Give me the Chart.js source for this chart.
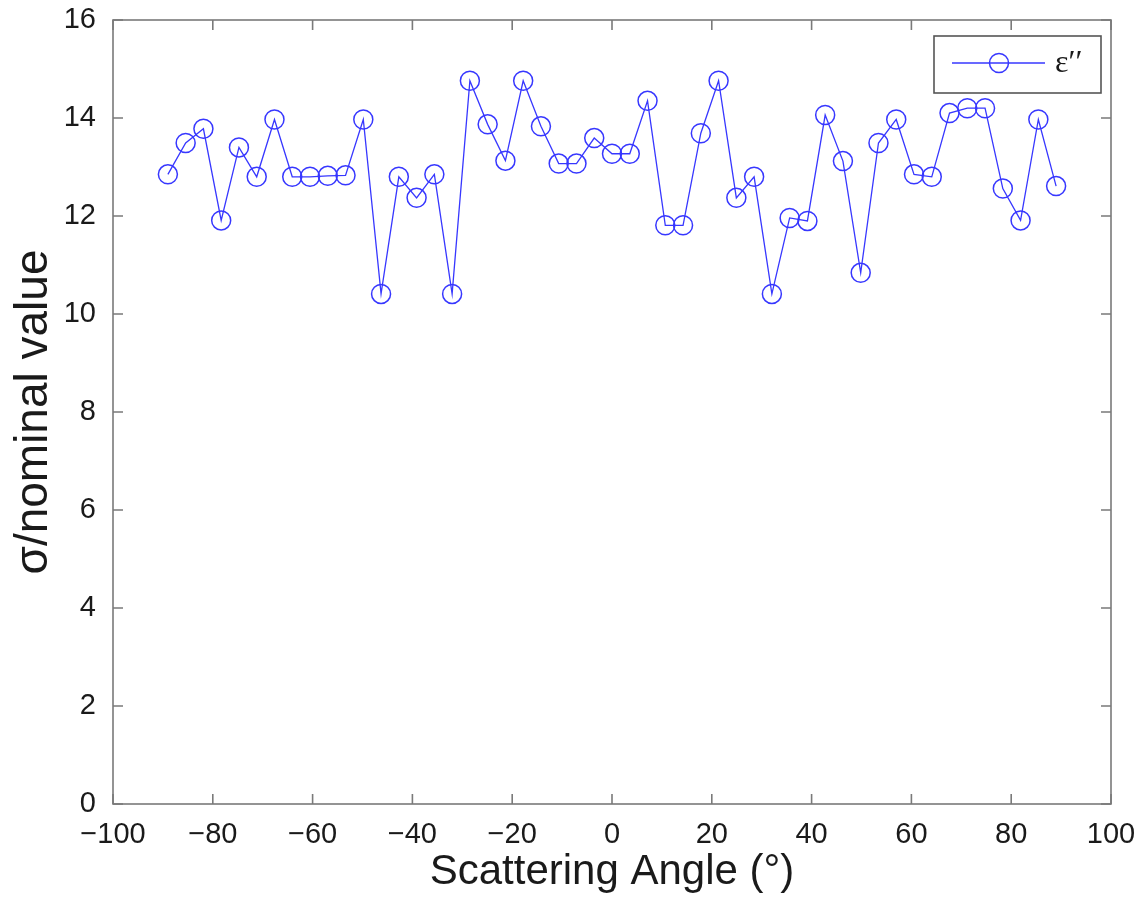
<!DOCTYPE html>
<html>
<head>
<meta charset="utf-8">
<script src="https://cdn.jsdelivr.net/npm/chart.js@4.4.1/dist/chart.umd.min.js"></script>
<style>
  html, body { margin: 0; padding: 0; background: #ffffff; }
  #wrap { width: 1146px; height: 902px; }
</style>
</head>
<body>
<div id="wrap"><canvas id="c" width="1146" height="902"></canvas></div>
<script>
// Scattering angles (degrees)
const angles = [-89, -85.44, -81.88, -78.32, -74.76, -71.2, -67.64, -64.08, -60.52, -56.96,
  -53.4, -49.84, -46.28, -42.72, -39.16, -35.6, -32.04, -28.48, -24.92, -21.36,
  -17.8, -14.24, -10.68, -7.12, -3.56, 0, 3.56, 7.12, 10.68, 14.24,
  17.8, 21.36, 24.92, 28.48, 32.04, 35.6, 39.16, 42.72, 46.28, 49.84,
  53.4, 56.96, 60.52, 64.08, 67.64, 71.2, 74.76, 78.32, 81.88, 85.44, 89];
// sigma / nominal value for epsilon''
const epsValues = [12.85, 13.49, 13.78, 11.91, 13.40, 12.80, 13.97, 12.80, 12.80, 12.82,
  12.83, 13.97, 10.41, 12.80, 12.37, 12.85, 10.41, 14.76, 13.87, 13.13,
  14.76, 13.83, 13.07, 13.07, 13.59, 13.27, 13.27, 14.35, 11.81, 11.81,
  13.69, 14.76, 12.37, 12.80, 10.41, 11.96, 11.90, 14.06, 13.12, 10.84,
  13.49, 13.97, 12.85, 12.80, 14.10, 14.20, 14.20, 12.56, 11.91, 13.97, 12.61];
const xTicks = [-100, -80, -60, -40, -20, 0, 20, 40, 60, 80, 100];
const yTicks = [0, 2, 4, 6, 8, 10, 12, 14, 16];
const seriesLabel = 'ε′′';
const xTitle = 'Scattering Angle (°)';
const yTitle = 'σ/nominal value';

const blue = 'rgb(55,55,255)';
const frameColor = '#7a7a7a';

const framePlugin = {
  id: 'matlabFrame',
  afterDatasetsDraw(chart) {
    const ctx = chart.ctx;
    const a = chart.chartArea;
    const xs = chart.scales.x, ys = chart.scales.y;
    ctx.save();
    ctx.strokeStyle = frameColor;
    ctx.lineWidth = 1.6;
    ctx.strokeRect(a.left, a.top, a.right - a.left, a.bottom - a.top);
    const tl = 10;
    ctx.beginPath();
    xTicks.forEach(v => {
      const px = xs.getPixelForValue(v);
      ctx.moveTo(px, a.bottom); ctx.lineTo(px, a.bottom - tl);
      ctx.moveTo(px, a.top); ctx.lineTo(px, a.top + tl);
    });
    yTicks.forEach(v => {
      const py = ys.getPixelForValue(v);
      ctx.moveTo(a.left, py); ctx.lineTo(a.left + tl, py);
      ctx.moveTo(a.right, py); ctx.lineTo(a.right - tl, py);
    });
    ctx.stroke();

    // Legend box (top right, inside axes)
    const bx = 934, by = 36, bw = 167, bh = 57;
    ctx.fillStyle = '#ffffff';
    ctx.fillRect(bx, by, bw, bh);
    ctx.strokeStyle = '#555555';
    ctx.lineWidth = 1.6;
    ctx.strokeRect(bx, by, bw, bh);
    const ly = by + 27;
    ctx.strokeStyle = blue;
    ctx.lineWidth = 1.3;
    ctx.beginPath();
    ctx.moveTo(bx + 18, ly); ctx.lineTo(bx + 111, ly);
    ctx.stroke();
    ctx.lineWidth = 1.5;
    ctx.beginPath();
    ctx.arc(bx + 65, ly, 9.5, 0, Math.PI * 2);
    ctx.stroke();
    ctx.fillStyle = '#1a1a1a';
    ctx.font = '32px "Liberation Serif", "DejaVu Serif", serif';
    ctx.textBaseline = 'middle';
    ctx.textAlign = 'left';
    ctx.fillText(seriesLabel, bx + 121, ly + 1);
    ctx.restore();
  }
};

new Chart(document.getElementById('c'), {
  type: 'scatter',
  data: {
    datasets: [{
      label: seriesLabel,
      data: angles.map((a, i) => ({ x: a, y: epsValues[i] })),
      showLine: true,
      borderColor: blue,
      borderWidth: 1.3,
      pointRadius: 9.5,
      pointHoverRadius: 9.5,
      pointBorderWidth: 1.5,
      pointBorderColor: blue,
      pointBackgroundColor: 'rgba(0,0,0,0)',
      tension: 0
    }]
  },
  options: {
    responsive: false,
    animation: false,
    events: [],
    layout: { padding: { top: 20, right: 35, left: 0, bottom: 0 } },
    plugins: {
      legend: { display: false },
      tooltip: { enabled: false }
    },
    scales: {
      x: {
        type: 'linear',
        min: -100, max: 100,
        afterBuildTicks(s) { s.ticks = xTicks.map(v => ({ value: v })); },
        afterFit(s) { s.height = 98; s.paddingLeft = 0; s.paddingRight = 0; },
        grid: { display: false },
        border: { display: false },
        ticks: {
          color: '#1a1a1a',
          font: { family: '"Liberation Sans", Arial, sans-serif', size: 29 },
          padding: 6,
          maxRotation: 0,
          autoSkip: false,
          callback: v => String(v).replace('-', '\u2212')
        },
        title: {
          display: true,
          text: xTitle,
          color: '#1a1a1a',
          font: { family: '"Liberation Sans", Arial, sans-serif', size: 42 },
          padding: { top: 0, bottom: 4 }
        }
      },
      y: {
        type: 'linear',
        min: 0, max: 16,
        afterBuildTicks(s) { s.ticks = yTicks.map(v => ({ value: v })); },
        afterFit(s) { s.width = 113; s.paddingTop = 0; s.paddingBottom = 0; },
        grid: { display: false },
        border: { display: false },
        ticks: {
          color: '#1a1a1a',
          font: { family: '"Liberation Sans", Arial, sans-serif', size: 29 },
          padding: 9,
          autoSkip: false
        },
        title: {
          display: true,
          text: yTitle,
          color: '#1a1a1a',
          font: { family: '"Liberation Sans", Arial, sans-serif', size: 46 },
          padding: { top: 7, bottom: 0 }
        }
      }
    }
  },
  plugins: [framePlugin]
});
</script>
</body>
</html>
